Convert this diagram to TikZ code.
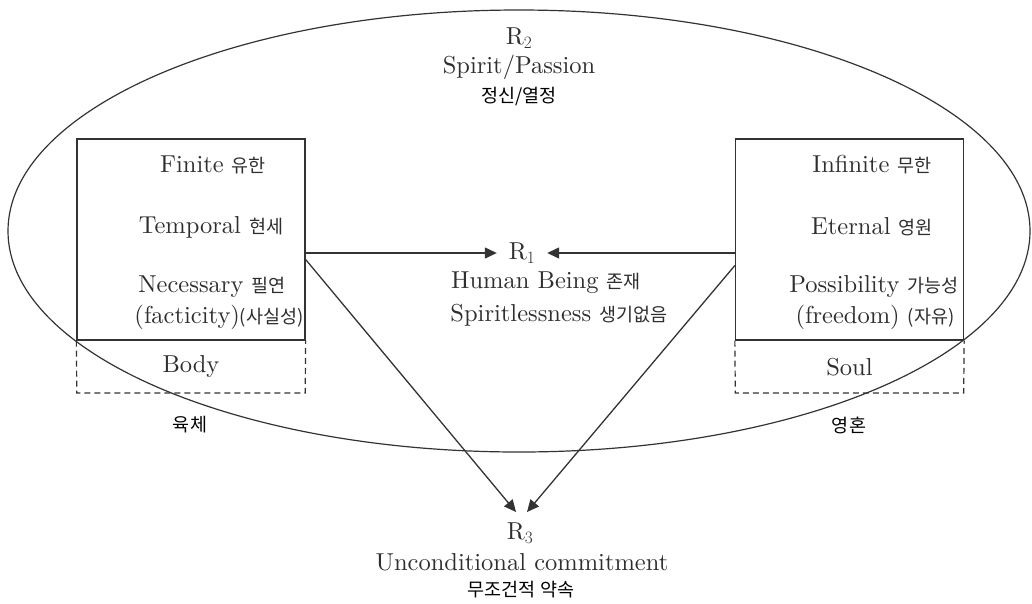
\documentclass[tikz,border=0pt]{standalone}
\usepackage{fontspec}
\setmainfont{lmroman10-regular.otf}
\newfontfamily\kor{Noto Sans CJK KR}
\newcommand\ko[1]{{\kor\fontsize{18.5}{21}\selectfont #1}}
\usetikzlibrary{arrows.meta,positioning,calc,shapes.geometric}

\begin{document}
\begin{tikzpicture}[
  x=1pt, y=-1pt,
  >={Triangle[length=12pt,width=11pt]},
  every node/.style={font=\fontsize{24.5}{28}\selectfont, text=black!82},
  kr/.style={font=\kor\fontsize{18.5}{21}\selectfont, text=black},
  frame/.style={draw=black!80, line width=1.3pt, inner sep=0pt,
                minimum width=228pt, minimum height=201pt},
  basebox/.style={inner sep=0pt, minimum width=228pt, minimum height=52pt},
  link/.style={->, line width=1.3pt, draw=black!80},
]
\useasboundingbox (0,0) rectangle (1032,603);

\node[ellipse, draw=black!80, line width=1.2pt, inner sep=0pt,
      minimum width=1022pt, minimum height=442pt] (spirit) at (519,231) {};
\node (r2) at (519,38) {R$_2$};
\node (passion) at (519,67) {Spirit/Passion};
\node[kr] (passionko) at (519,97) {정신/열정};

% left: body
\node[frame] (finbox) at (191,239.5) {};
\node[basebox, below=0pt of finbox] (body) {Body};
\draw[dashed, dash pattern=on 6pt off 4pt, line width=1.2pt, black!80]
  (finbox.south west) -- (body.south west) -- (body.south east) -- (finbox.south east);
\node (finite) at (213,165) {Finite \ko{유한}};
\node (temporal) at (211,227) {Temporal \ko{현세}};
\node (necessary) at (212,287) {Necessary \ko{필연}};
\node (facticity) at (219,317) {(facticity)\ko{(사실성)}};
\node[kr] (bodyko) at (190,425) {육체};

% right: soul
\node[frame] (infbox) at (849.5,239.5) {};
\node[basebox, below=0pt of infbox] (soul) {Soul};
\draw[dashed, dash pattern=on 6pt off 4pt, line width=1.2pt, black!80]
  (infbox.south west) -- (soul.south west) -- (soul.south east) -- (infbox.south east);
\node (infinite) at (872,165) {Infinite \ko{무한}};
\node (eternal) at (872,227) {Eternal \ko{영원}};
\node (possibility) at (874,287) {Possibility \ko{가능성}};
\node (freedom) at (875,317) {(freedom) \ko{(자유)}};
\node[kr] (soulko) at (849,425) {영혼};

% middle
\node[inner sep=0pt, minimum width=50pt] (r1) at (522,253) {R$_1$};
\node (human) at (546,283) {Human Being \ko{존재}};
\node (spiritless) at (559,315) {Spiritlessness \ko{생기없음}};

\node (r3) at (520,533) {R$_3$};
\node (commit) at (522,562) {Unconditional commitment};
\node[kr] (commitko) at (521,590) {무조건적 약속};
\coordinate (r3l) at ($(r3)+(-4,-21)$);
\coordinate (r3r) at ($(r3)+(7,-21)$);

\draw[link] (finbox.east |- r1) -- (r1.west);
\draw[link] (infbox.west |- r1) -- (r1.east);
\draw[link] ($(finbox.east)+(0,20)$) -- (r3l);
\draw[link] ($(infbox.west)+(0,26)$) -- (r3r);
\end{tikzpicture}
\end{document}
